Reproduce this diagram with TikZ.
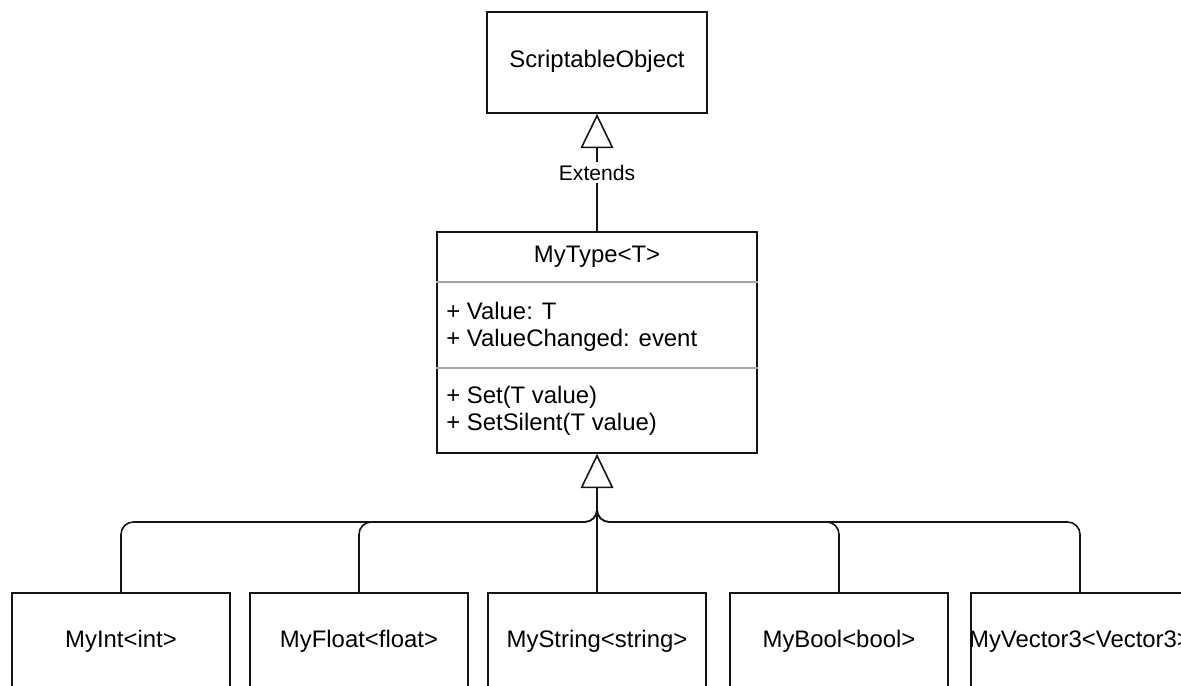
\documentclass[tikz,border=0pt]{standalone}
\usepackage{fontspec}
\setmainfont{Liberation Sans}
\usetikzlibrary{arrows.meta, positioning}
\definecolor{umlline}{RGB}{20,20,20}
\definecolor{umlsep}{RGB}{165,165,165}

\tikzset{
  umlfont/.style={font=\fontsize{13.6}{15.3}\selectfont},
  classbox/.style={draw=umlline, line width=1pt, umlfont, text height=9.5pt, text depth=4pt},
  leafbox/.style={classbox, minimum width=4.36cm, minimum height=2cm, anchor=north},
  members/.style={umlfont, anchor=west, align=left, inner sep=0pt},
  extends/.style={draw=umlline, line width=0.9pt, -{Triangle[open, width=18.7pt, length=19.5pt, fill=white]}},
  bus/.style={draw=umlline, line width=0.9pt, rounded corners=7pt}
}

\begin{document}
\begin{tikzpicture}[x=0.02cm, y=-0.02cm]
  \useasboundingbox (0,0) rectangle (1181,686);
  \clip (0,0) rectangle (1181,686);

  % base classes
  \node[classbox, minimum width=4.4cm, minimum height=2.02cm] (scriptable) at (597,62.5) {ScriptableObject};
  \node[draw=umlline, line width=1pt, minimum width=6.4cm, minimum height=4.42cm] (mytype) at (597,342.5) {};
  \draw[umlsep, line width=0.8pt] (mytype.west |- 0,282) -- (mytype.east |- 0,282);
  \draw[umlsep, line width=0.8pt] (mytype.west |- 0,368) -- (mytype.east |- 0,368);
  \node[umlfont] (mytypetitle) at (597,257) {MyType<T>};
  \node[members] (fields) at (446,326.5) {+ Value: T\\+ ValueChanged: event};
  \node[members] (methods) at (446,411) {+ Set(T value)\\+ SetSilent(T value)};

  \draw[extends] (mytype.north) -- node[fill=white, font=\fontsize{12}{14}\selectfont, inner sep=1.5pt] (extlabel) {Extends} (scriptable.south);

  % concrete types
  \node[leafbox] (myint) at (121,592) {MyInt<int>};
  \node[leafbox] (myfloat) at (359,592) {MyFloat<float>};
  \node[leafbox] (mystring) at (597,592) {MyString<string>};
  \node[leafbox] (mybool) at (839,592) {MyBool<bool>};
  \node[leafbox] (myvec) at (1080,592) {\makebox[0pt][c]{MyVector3<Vector3>}};

  \coordinate (join) at (597,500);
  \coordinate (busy) at (597,522);
  \draw[extends] (join) -- (mytype.south);
  \draw[bus] (mystring.north) -- (join);
  \foreach \leaf in {myint, myfloat, mybool, myvec}
    \draw[bus] (\leaf.north) |- (busy) -- (join);
\end{tikzpicture}
\end{document}
